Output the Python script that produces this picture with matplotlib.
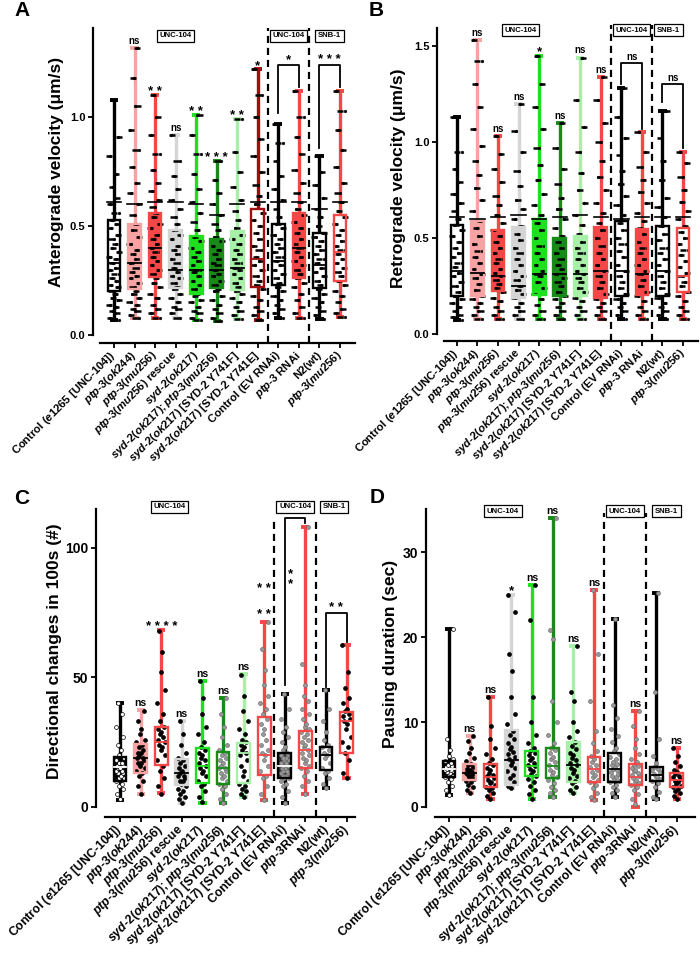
import matplotlib
matplotlib.use('Agg')
import matplotlib.pyplot as plt
from matplotlib.patches import Rectangle

plt.rcParams['font.family'] = ['Liberation Sans', 'DejaVu Sans']
plt.rcParams['font.weight'] = 'bold'
plt.rcParams['mathtext.fontset'] = 'custom'
plt.rcParams['mathtext.rm'] = 'Liberation Sans:bold'
plt.rcParams['mathtext.it'] = 'Liberation Sans:italic:bold'
plt.rcParams['mathtext.bf'] = 'Liberation Sans:bold'

# ---------------- categories ----------------
cats_ab = ['Control ($\\mathit{e1265}$ [UNC-104])',
           '$\\mathit{ptp}$-$\\mathit{3(ok244)}$',
           '$\\mathit{ptp}$-$\\mathit{3(mu256)}$',
           '$\\mathit{ptp}$-$\\mathit{3(mu256)}$ rescue',
           '$\\mathit{syd}$-$\\mathit{2(ok217)}$',
           '$\\mathit{syd}$-$\\mathit{2(ok217);ptp}$-$\\mathit{3(mu256)}$',
           '$\\mathit{syd}$-$\\mathit{2(ok217)}$ [SYD-2 Y741F]',
           '$\\mathit{syd}$-$\\mathit{2(ok217)}$ [SYD-2 Y741E]',
           'Control (EV RNAi)',
           '$\\mathit{ptp}$-$\\mathit{3}$ RNAi',
           'N2(wt)',
           '$\\mathit{ptp}$-$\\mathit{3(mu256)}$']
cats_cd = cats_ab[:9] + ['$\\mathit{ptp}$-$\\mathit{3}$RNAi'] + cats_ab[10:]

# ---------------- Panel A: anterograde velocity ----------------
a_min = [0.07, 0.078, 0.078, 0.08, 0.07, 0.065, 0.075, 0.07, 0.08, 0.078, 0.075, 0.084]
a_q1 = [0.20, 0.21, 0.265, 0.214, 0.19, 0.215, 0.206, 0.22, 0.23, 0.26, 0.215, 0.25]
a_med = [0.33, 0.33, 0.40, 0.30, 0.30, 0.30, 0.31, 0.35, 0.34, 0.40, 0.32, 0.38]
a_q3 = [0.53, 0.51, 0.56, 0.48, 0.455, 0.44, 0.477, 0.58, 0.51, 0.56, 0.47, 0.55]
a_max = [1.08, 1.32, 1.10, 0.92, 1.01, 0.80, 0.99, 1.22, 0.97, 1.12, 0.82, 1.12]
a_sd = [0.61, 0.60, 0.61, 0.61, 0.60, 0.55, 0.60, 0.61, 0.61, 0.61, 0.58, 0.61]
a_pts = [
    [0.07, 0.08, 0.1, 0.11, 0.13, 0.14, 0.16, 0.17, 0.19, 0.2, 0.22, 0.23, 0.25, 0.26, 0.28, 0.3, 0.31, 0.33, 0.35, 0.36, 0.38, 0.4, 0.42, 0.44, 0.46, 0.49, 0.51, 0.53, 0.56, 0.6, 0.63, 0.68, 0.74, 0.82, 0.91, 1.08],
    [0.08, 0.09, 0.11, 0.12, 0.14, 0.15, 0.17, 0.19, 0.2, 0.22, 0.24, 0.26, 0.27, 0.29, 0.31, 0.33, 0.35, 0.37, 0.39, 0.42, 0.45, 0.48, 0.51, 0.55, 0.6, 0.65, 0.7, 0.77, 0.85, 0.94, 1.05, 1.18, 1.32],
    [0.08, 0.1, 0.12, 0.14, 0.17, 0.19, 0.22, 0.24, 0.26, 0.28, 0.3, 0.32, 0.34, 0.36, 0.38, 0.4, 0.42, 0.44, 0.46, 0.49, 0.51, 0.54, 0.56, 0.59, 0.62, 0.66, 0.7, 0.76, 0.83, 0.92, 1.0, 1.1],
    [0.08, 0.1, 0.12, 0.13, 0.15, 0.17, 0.19, 0.21, 0.22, 0.24, 0.26, 0.27, 0.29, 0.31, 0.33, 0.35, 0.37, 0.39, 0.41, 0.44, 0.46, 0.48, 0.51, 0.54, 0.58, 0.62, 0.67, 0.73, 0.8, 0.92],
    [0.07, 0.08, 0.1, 0.11, 0.13, 0.15, 0.16, 0.18, 0.19, 0.21, 0.23, 0.25, 0.27, 0.29, 0.3, 0.32, 0.34, 0.36, 0.38, 0.4, 0.43, 0.45, 0.48, 0.52, 0.56, 0.61, 0.67, 0.74, 0.83, 0.92, 1.01],
    [0.065, 0.08, 0.1, 0.12, 0.14, 0.16, 0.18, 0.2, 0.21, 0.23, 0.25, 0.27, 0.28, 0.3, 0.32, 0.33, 0.35, 0.37, 0.39, 0.41, 0.43, 0.45, 0.48, 0.51, 0.55, 0.6, 0.65, 0.71, 0.8],
    [0.075, 0.09, 0.11, 0.13, 0.15, 0.17, 0.19, 0.2, 0.22, 0.24, 0.26, 0.28, 0.3, 0.31, 0.33, 0.35, 0.37, 0.39, 0.42, 0.44, 0.46, 0.49, 0.53, 0.57, 0.62, 0.68, 0.75, 0.84, 0.99],
    [0.07, 0.09, 0.11, 0.13, 0.16, 0.18, 0.21, 0.23, 0.25, 0.27, 0.3, 0.32, 0.34, 0.36, 0.39, 0.41, 0.44, 0.47, 0.5, 0.53, 0.56, 0.6, 0.64, 0.69, 0.75, 0.82, 0.9, 1.0, 1.1, 1.22],
    [0.08, 0.1, 0.12, 0.14, 0.16, 0.18, 0.2, 0.22, 0.24, 0.26, 0.28, 0.3, 0.32, 0.34, 0.36, 0.38, 0.4, 0.42, 0.44, 0.46, 0.49, 0.51, 0.54, 0.58, 0.62, 0.67, 0.73, 0.8, 0.88, 0.97],
    [0.08, 0.1, 0.13, 0.16, 0.19, 0.22, 0.24, 0.26, 0.28, 0.3, 0.32, 0.34, 0.36, 0.38, 0.4, 0.42, 0.44, 0.47, 0.49, 0.52, 0.55, 0.58, 0.61, 0.65, 0.7, 0.76, 0.83, 0.91, 1.0, 1.12],
    [0.075, 0.09, 0.11, 0.13, 0.15, 0.17, 0.19, 0.21, 0.23, 0.25, 0.27, 0.29, 0.31, 0.33, 0.35, 0.37, 0.39, 0.41, 0.43, 0.45, 0.47, 0.5, 0.54, 0.58, 0.63, 0.69, 0.75, 0.82],
    [0.084, 0.1, 0.12, 0.15, 0.18, 0.2, 0.23, 0.25, 0.27, 0.29, 0.31, 0.33, 0.35, 0.37, 0.39, 0.41, 0.43, 0.46, 0.48, 0.51, 0.54, 0.57, 0.61, 0.65, 0.7, 0.77, 0.85, 0.94, 1.03, 1.12],
]
a_sig = ['', 'ns', '* *', 'ns', '* *', '* * *', '* *', '*', '', '', '', '']

# ---------------- Panel B: retrograde velocity ----------------
b_min = [0.073, 0.08, 0.08, 0.08, 0.08, 0.08, 0.08, 0.08, 0.08, 0.08, 0.08, 0.08]
b_q1 = [0.20, 0.20, 0.225, 0.186, 0.203, 0.20, 0.20, 0.186, 0.20, 0.203, 0.20, 0.22]
b_med = [0.33, 0.32, 0.30, 0.25, 0.31, 0.31, 0.31, 0.33, 0.33, 0.31, 0.33, 0.30]
b_q3 = [0.57, 0.59, 0.54, 0.556, 0.60, 0.50, 0.51, 0.556, 0.59, 0.545, 0.56, 0.55]
b_max = [1.13, 1.53, 1.03, 1.20, 1.45, 1.10, 1.44, 1.34, 1.28, 1.05, 1.16, 0.95]
b_sd = [0.61, 0.60, 0.61, 0.62, 0.60, 0.61, 0.62, 0.61, 0.60, 0.61, 0.61, 0.61]
b_pts = [
    [0.073, 0.09, 0.1, 0.12, 0.14, 0.16, 0.18, 0.2, 0.22, 0.25, 0.27, 0.3, 0.32, 0.35, 0.37, 0.4, 0.42, 0.45, 0.48, 0.51, 0.54, 0.57, 0.6, 0.64, 0.68, 0.73, 0.79, 0.86, 0.95, 1.13],
    [0.08, 0.1, 0.12, 0.14, 0.16, 0.18, 0.2, 0.23, 0.26, 0.29, 0.31, 0.34, 0.37, 0.4, 0.43, 0.47, 0.51, 0.55, 0.59, 0.64, 0.7, 0.76, 0.83, 0.9, 0.98, 1.07, 1.18, 1.3, 1.42, 1.53],
    [0.08, 0.1, 0.12, 0.14, 0.17, 0.19, 0.22, 0.24, 0.26, 0.28, 0.3, 0.32, 0.34, 0.37, 0.39, 0.42, 0.45, 0.48, 0.51, 0.54, 0.58, 0.62, 0.67, 0.72, 0.79, 0.86, 0.94, 1.03],
    [0.08, 0.1, 0.12, 0.14, 0.16, 0.19, 0.21, 0.23, 0.25, 0.28, 0.3, 0.33, 0.36, 0.39, 0.42, 0.45, 0.49, 0.52, 0.56, 0.6, 0.65, 0.7, 0.77, 0.85, 0.95, 1.06, 1.2],
    [0.08, 0.1, 0.12, 0.15, 0.18, 0.21, 0.24, 0.27, 0.3, 0.31, 0.33, 0.36, 0.39, 0.42, 0.46, 0.5, 0.54, 0.58, 0.62, 0.67, 0.73, 0.8, 0.88, 0.97, 1.07, 1.18, 1.3, 1.45],
    [0.08, 0.1, 0.12, 0.14, 0.16, 0.18, 0.2, 0.22, 0.25, 0.27, 0.29, 0.31, 0.34, 0.36, 0.39, 0.42, 0.45, 0.48, 0.51, 0.55, 0.6, 0.65, 0.71, 0.78, 0.86, 0.97, 1.1],
    [0.08, 0.1, 0.12, 0.14, 0.17, 0.19, 0.22, 0.24, 0.27, 0.29, 0.31, 0.33, 0.36, 0.39, 0.42, 0.45, 0.48, 0.52, 0.57, 0.62, 0.68, 0.75, 0.84, 0.95, 1.08, 1.22, 1.44],
    [0.08, 0.1, 0.12, 0.14, 0.16, 0.18, 0.21, 0.24, 0.27, 0.3, 0.33, 0.36, 0.39, 0.42, 0.46, 0.5, 0.54, 0.58, 0.63, 0.68, 0.75, 0.82, 0.9, 1.0, 1.1, 1.22, 1.34],
    [0.08, 0.1, 0.12, 0.14, 0.16, 0.18, 0.21, 0.24, 0.27, 0.3, 0.33, 0.36, 0.4, 0.43, 0.47, 0.5, 0.54, 0.58, 0.62, 0.67, 0.72, 0.78, 0.85, 0.93, 1.02, 1.13, 1.28],
    [0.08, 0.1, 0.12, 0.14, 0.17, 0.2, 0.22, 0.25, 0.28, 0.31, 0.33, 0.36, 0.39, 0.42, 0.45, 0.48, 0.52, 0.55, 0.59, 0.63, 0.68, 0.74, 0.8, 0.87, 0.95, 1.05],
    [0.08, 0.1, 0.12, 0.14, 0.16, 0.19, 0.21, 0.24, 0.27, 0.3, 0.33, 0.36, 0.39, 0.42, 0.45, 0.49, 0.52, 0.56, 0.61, 0.66, 0.71, 0.8, 0.9, 1.02, 1.16],
    [0.08, 0.1, 0.12, 0.14, 0.17, 0.2, 0.22, 0.25, 0.27, 0.3, 0.32, 0.35, 0.38, 0.41, 0.44, 0.47, 0.5, 0.53, 0.56, 0.6, 0.64, 0.69, 0.75, 0.82, 0.89, 0.95],
]
b_sig = ['', 'ns', 'ns', 'ns', '*', 'ns', 'ns', 'ns', '', '', '', '']

# ---------------- Panel C: directional changes ----------------
c_min = [2.7, 5, 5.3, 1.5, 1.7, 1.5, 4, 2.7, 1.5, 5, 7.2, 11]
c_q1 = [10.2, 13, 16.2, 8.5, 9.1, 8.9, 9.4, 12.4, 11, 15, 14.3, 21]
c_med = [15.5, 19, 25, 13, 16, 15, 21, 20, 16, 22, 20, 33]
c_q3 = [19.4, 24.3, 30.8, 18.5, 22.6, 21.4, 24.8, 34.6, 21, 29.3, 23.3, 36.8]
c_max = [40, 37.5, 68.3, 33, 48.6, 42.2, 51.4, 71.5, 43.6, 108, 45, 62.5]
c_pts = [
    [3, 5, 7, 8, 9, 10, 11, 11, 12, 13, 13, 14, 14, 15, 15, 16, 16, 17, 17, 18, 19, 20, 22, 24, 27, 31, 36, 40],
    [5, 8, 10, 12, 13, 14, 15, 16, 17, 17, 18, 19, 19, 20, 21, 21, 22, 23, 24, 25, 26, 28, 30, 33, 37],
    [5, 8, 11, 14, 16, 18, 20, 22, 23, 24, 25, 26, 27, 28, 29, 30, 31, 33, 36, 40, 45, 52, 60, 68],
    [1.5, 3, 4, 5, 6, 7, 8, 9, 10, 10, 11, 12, 12, 13, 14, 15, 16, 17, 18, 19, 21, 24, 28, 33],
    [2, 4, 6, 8, 9, 10, 12, 13, 14, 15, 16, 17, 18, 19, 20, 21, 22, 23, 25, 28, 31, 36, 42, 48.6],
    [1.5, 3, 5, 7, 8, 9, 10, 11, 12, 13, 14, 15, 15, 16, 17, 18, 19, 20, 21, 22, 24, 27, 31, 36, 42],
    [4, 5, 6, 7, 8, 9, 10, 12, 14, 16, 18, 20, 21, 22, 23, 24, 25, 26, 28, 30, 33, 37, 43, 51],
    [2.7, 5, 8, 11, 12, 14, 16, 18, 20, 21, 22, 24, 26, 28, 30, 32, 34, 36, 38, 40, 43, 47, 53, 61, 71.5],
    [1.5, 4, 6, 8, 9, 10, 11, 11, 12, 12, 13, 13, 14, 14, 15, 15, 16, 16, 17, 17, 18, 18, 19, 19, 20, 20, 21, 22, 23, 25, 27, 29, 31, 34, 38, 43.6],
    [5, 8, 10, 12, 14, 15, 16, 17, 18, 19, 20, 21, 22, 23, 24, 25, 26, 27, 28, 29, 30, 31, 32, 34, 36, 38, 41, 43, 47, 55, 108],
    [7.2, 9, 11, 13, 14, 15, 17, 19, 20, 21, 22, 23, 24, 26, 29, 33, 38, 45],
    [11, 13, 18, 21, 23, 25, 27, 30, 32, 33, 34, 35, 36, 37, 38, 40, 42, 46, 52, 62.5],
]
c_sig = ['', 'ns', '* * * *', 'ns', 'ns', 'ns', 'ns', '', '', '', '', '']

# ---------------- Panel D: pausing duration ----------------
d_min = [1.4, 1.7, 1.0, 2.2, 1.0, 1.2, 1.6, 0.8, 1.2, 0.0, 0.9, 1.0]
d_q1 = [3.5, 3.2, 2.4, 2.6, 3.6, 3.4, 3.0, 2.9, 3.0, 2.6, 3.1, 2.4]
d_med = [4.5, 4.0, 3.5, 5.5, 4.8, 4.8, 5.0, 4.5, 4.5, 3.5, 3.8, 3.2]
d_q3 = [5.45, 5.06, 5.1, 9.05, 6.6, 7.0, 7.6, 5.9, 6.3, 5.1, 4.7, 4.0]
d_max = [21, 8.35, 12.9, 25, 26.1, 34, 18.9, 25.5, 22.1, 11.3, 25.2, 6.9]
d_pts = [
    [1.4, 2, 2.5, 3, 3.3, 3.5, 3.7, 3.9, 4, 4.1, 4.2, 4.3, 4.4, 4.5, 4.6, 4.7, 4.8, 5, 5.2, 5.4, 5.7, 6, 6.7, 8, 21],
    [1.7, 2, 2.3, 2.6, 2.9, 3.1, 3.3, 3.5, 3.6, 3.8, 3.9, 4, 4.1, 4.2, 4.4, 4.5, 4.7, 4.9, 5.1, 5.4, 5.8, 6.3, 7, 7.8, 8.35],
    [1, 1.3, 1.6, 2, 2.2, 2.4, 2.6, 2.8, 3, 3.2, 3.4, 3.6, 3.8, 4, 4.3, 4.6, 4.9, 5.2, 5.6, 6.2, 7, 8, 9.5, 12.9],
    [2.2, 2.5, 3, 3.4, 3.8, 4.2, 4.6, 5, 5.3, 5.6, 5.9, 6.2, 6.5, 6.8, 7.1, 7.5, 8, 8.5, 9, 9.8, 11, 13, 16, 18, 23, 25],
    [1, 1.5, 2, 2.5, 3, 3.3, 3.6, 3.9, 4.2, 4.5, 4.8, 5, 5.2, 5.5, 5.8, 6.1, 6.4, 6.6, 7, 7.5, 8.5, 10, 13, 22, 26.1],
    [1.2, 1.6, 2, 2.4, 2.8, 3.2, 3.5, 3.8, 4.1, 4.4, 4.7, 5, 5.3, 5.6, 5.9, 6.3, 6.7, 7, 7.5, 8.5, 10, 12.5, 19.8, 20.8, 34],
    [1.6, 2, 2.4, 2.8, 3.1, 3.4, 3.7, 4, 4.3, 4.6, 4.9, 5.2, 5.5, 5.8, 6.1, 6.4, 6.8, 7.2, 7.6, 8.2, 9, 10, 12.5, 13.5, 18.9],
    [0.8, 1.2, 1.7, 2.2, 2.6, 2.9, 3.2, 3.5, 3.8, 4.1, 4.4, 4.7, 5, 5.3, 5.6, 6, 6.6, 7.5, 9, 12.5, 18, 25.5],
    [1.2, 1.6, 2, 2.3, 2.6, 2.9, 3.1, 3.3, 3.5, 3.7, 3.9, 4.1, 4.3, 4.5, 4.7, 4.9, 5.1, 5.3, 5.6, 5.9, 6.2, 6.6, 7, 7.6, 8.3, 9.2, 10.5, 12, 22.1],
    [0.3, 1, 1.5, 2, 2.3, 2.6, 2.8, 3, 3.2, 3.4, 3.6, 3.8, 4, 4.2, 4.4, 4.6, 4.8, 5, 5.3, 5.7, 6.2, 7, 8, 9.5, 11.3],
    [0.9, 1.2, 1.8, 2.4, 2.8, 3.1, 3.3, 3.5, 3.7, 3.9, 4.1, 4.3, 4.5, 4.7, 5.2, 6, 8, 13.5, 25.2],
    [1, 1.3, 1.6, 1.9, 2.1, 2.3, 2.5, 2.7, 2.9, 3.1, 3.3, 3.5, 3.7, 3.9, 4.1, 4.4, 4.8, 5.3, 6, 6.9],
]
d_sig = ['', 'ns', 'ns', '*', 'ns', 'ns', 'ns', 'ns', '', 'ns', '', 'ns']

# ---------------- colours ----------------
K = '#000000'; W = '#ffffff'
PINK = '#F6A3A3'; RED = '#F44848'; GREY = '#D5D5D5'
GREEN = '#1EE01E'; DKGREEN = '#178A17'; LTGREEN = '#A8F0A8'; DKRED = '#A30D0D'
DKFILL = '#333333'; PG = '#9A9A9A'

a_edge = [K, PINK, RED, GREY, GREEN, DKGREEN, LTGREEN, DKRED, K, RED, K, RED]
a_fill = [W, PINK, RED, GREY, GREEN, DKGREEN, LTGREEN, W, W, RED, W, W]
b_edge = [K, PINK, RED, GREY, GREEN, DKGREEN, LTGREEN, RED, K, RED, K, RED]
b_fill = [W, PINK, RED, GREY, GREEN, DKGREEN, LTGREEN, RED, W, RED, W, W]
c_edge = [K, PINK, RED, GREY, GREEN, DKGREEN, LTGREEN, RED, K, RED, K, RED]
c_fill = [K, PINK, W, GREY, W, W, W, W, DKFILL, W, W, W]
c_ptc = [W, K, K, K, K, PG, K, PG, PG, PG, PG, K]
d_edge = [K, PINK, RED, GREY, GREEN, DKGREEN, LTGREEN, RED, K, RED, K, RED]
d_fill = [K, PINK, W, GREY, W, W, LTGREEN, W, W, W, W, W]
d_ptc = [W, K, K, K, K, PG, K, PG, PG, PG, PG, K]

FW, FH = 700, 959
fig = plt.figure(figsize=(FW / 100, FH / 100), dpi=100)

JIT = [0.0, -0.55, 0.5, -0.25, 0.3, -0.75, 0.72, -0.1, 0.15, -0.4, 0.62, -0.65, 0.4, -0.3]


def px_rect(l, t, r, b):
    return [l / FW, (FH - b) / FH, (r - l) / FW, (b - t) / FH]


def panel(rect, xlim, ylim, yticks, ytl, cats, vmin, q1, med, q3, vmax, pts,
          edge, fill, ptc, ms, off_b, off_l, dashes, dash_top, sd=None, dense=False,
          xfs=8.0, yfs=8.0):
    ax = fig.add_axes(rect)
    ax.set_xlim(*xlim)
    ax.set_ylim(*ylim)
    for s in ['top', 'right']:
        ax.spines[s].set_visible(False)
    ax.spines['left'].set_position(('outward', off_l * 0.72))
    ax.spines['bottom'].set_position(('outward', off_b * 0.72))
    ax.spines['left'].set_bounds(0, ylim[1])
    for s in ['left', 'bottom']:
        ax.spines[s].set_linewidth(1.6)
    ax.set_xticks(range(len(cats)))
    ax.set_xticklabels(cats, rotation=45, ha='right', va='center',
                       rotation_mode='anchor', fontsize=xfs, fontweight='bold')
    ax.set_yticks(yticks)
    ax.set_yticklabels(ytl, fontsize=yfs, fontweight='bold')
    ax.tick_params(direction='out', length=3.5, width=1.3, pad=2)
    ax.tick_params(axis='x', pad=4)
    hw = 0.31
    for i in range(len(cats)):
        c = edge[i]
        ax.plot([i, i], [vmin[i], vmax[i]], color=c, lw=2.4,
                solid_capstyle='butt', zorder=1, clip_on=False)
        for yv in (vmin[i], vmax[i]):
            ax.plot([i - 0.2, i + 0.2], [yv, yv], color=c, lw=2.8,
                    solid_capstyle='butt', zorder=1, clip_on=False)
        ax.add_patch(Rectangle((i - hw, q1[i]), 2 * hw, q3[i] - q1[i],
                               facecolor=fill[i], edgecolor='none', zorder=2))
        if dense:
            xs = [i + JIT[j % len(JIT)] * 0.33 for j in range(len(pts[i]))]
            ax.plot(xs, pts[i], ls='none', marker='_', ms=ms, mec=K,
                    mew=1.8, zorder=3, clip_on=False)
            xs2 = [i - JIT[(j + 5) % len(JIT)] * 0.3 for j in range(len(pts[i]))]
            ax.plot(xs2, pts[i], ls='none', marker='o', ms=2.0, mfc=K, mec=K,
                    mew=0.3, zorder=3, clip_on=False)
        else:
            xs = [i + JIT[j % len(JIT)] * 0.27 for j in range(len(pts[i]))]
            pc = ptc[i] if ptc is not None else K
            mec = K if pc in (K, W) else '#6E6E6E'
            ax.plot(xs, pts[i], ls='none', marker='o', ms=ms, mfc=pc, mec=mec,
                    mew=0.5, zorder=3, clip_on=False)
        ax.add_patch(Rectangle((i - hw, q1[i]), 2 * hw, q3[i] - q1[i],
                               facecolor='none', edgecolor=c, lw=1.7, zorder=4))
        mc = c if fill[i] == W else (W if fill[i] in (K, DKFILL) else K)
        ax.plot([i - hw, i + hw], [med[i], med[i]], color=mc, lw=1.3, zorder=4)
        if sd is not None:
            ax.plot([i - 0.35, i + 0.35], [sd[i], sd[i]], color=K, lw=1.2, zorder=5)
    hpx = rect[3] * FH
    for xd in dashes:
        ax.axvline(xd, ymin=-off_b / hpx, ymax=dash_top, color=K, lw=1.6,
                   ls=(0, (3.2, 2.2)), clip_on=False, zorder=6)
    return ax


def sig_labels(ax, sig, vmax, ns_size=7, star_size=9.5):
    for i, s in enumerate(sig):
        if not s:
            continue
        if s == 'ns':
            ax.annotate(s, (i, vmax[i]), xytext=(0, 1.5), textcoords='offset points',
                        ha='center', va='bottom', fontsize=ns_size, fontweight='bold',
                        annotation_clip=False)
        else:
            ax.annotate(s, (i, vmax[i]), xytext=(0, -2), textcoords='offset points',
                        ha='center', va='bottom', fontsize=star_size, fontweight='bold',
                        annotation_clip=False)


def bracket(ax, x1, x2, y, yl, yr, text=None, size=9.5, dy=0):
    ax.plot([x1, x1, x2, x2], [yl, y, y, yr], color=K, lw=1.3, clip_on=False, zorder=6)
    if text:
        ax.annotate(text, ((x1 + x2) / 2, y), xytext=(0, 1 + dy), textcoords='offset points',
                    ha='center', va='bottom', fontsize=size, fontweight='bold',
                    annotation_clip=False)


def header(ax, x, yf, text):
    ax.text(x, yf, text, transform=ax.get_xaxis_transform(), ha='center', va='center',
            fontsize=5.6, fontweight='bold', zorder=7,
            bbox=dict(boxstyle='square,pad=0.35', fc=W, ec=K, lw=0.9))


# ---- Panel A ----
axA = panel(px_rect(100, 28, 355, 335), (-0.68, 11.73), (0, 1.41), [0, 0.5, 1.0],
            ['0.0', '0.5', '1.0'], cats_ab, a_min, a_q1, a_med, a_q3, a_max, a_pts,
            a_edge, a_fill, None, 4.5, 8, 7, [7.5, 9.5], 1.0, sd=a_sd, dense=True,
            xfs=8.1, yfs=8.0)
sig_labels(axA, a_sig, a_max)
bracket(axA, 8, 9, 1.24, 1.02, 1.14, '*', dy=-2)
bracket(axA, 10, 11, 1.24, 0.86, 1.14, '* * *', dy=-2)
header(axA, 3.0, 0.974, 'UNC-104')
header(axA, 8.5, 0.974, 'UNC-104')
header(axA, 10.5, 0.974, 'SNB-1')

# ---- Panel B ----
axB = panel(px_rect(444, 28, 698, 334), (-0.63, 11.73), (0, 1.594), [0, 0.5, 1.0, 1.5],
            ['0.0', '0.5', '1.0', '1.5'], cats_ab, b_min, b_q1, b_med, b_q3, b_max, b_pts,
            b_edge, b_fill, None, 4.5, 7, 7, [7.5, 9.5], 1.01, sd=b_sd, dense=True,
            xfs=8.1, yfs=8.0)
sig_labels(axB, b_sig, b_max)
bracket(axB, 8, 9, 1.41, 1.30, 1.07, 'ns', size=7)
bracket(axB, 10, 11, 1.30, 1.21, 0.97, 'ns', size=7)
header(axB, 3.1, 0.993, 'UNC-104')
header(axB, 8.5, 0.993, 'UNC-104')
header(axB, 10.3, 0.993, 'SNB-1')

# ---- Panel C ----
axC = panel(px_rect(105, 509, 355, 807), (-0.73, 11.41), (0, 115), [0, 50, 100],
            ['0', '50', '100'], cats_cd, c_min, c_q1, c_med, c_q3, c_max, c_pts,
            c_edge, c_fill, c_ptc, 2.8, 10, 9, [7.5, 9.5], 0.973, xfs=8.8, yfs=10)
sig_labels(axC, c_sig, c_max, ns_size=7.5)
axC.text(7, 74, '* *', ha='center', va='center', fontsize=9.5, fontweight='bold')
axC.text(7, 84, '* *', ha='center', va='center', fontsize=9.5, fontweight='bold')
bracket(axC, 8, 9, 111.6, 47, 109.5)
axC.text(8.27, 88, '*\n*', ha='center', va='center', fontsize=9.5, fontweight='bold',
         linespacing=0.75)
bracket(axC, 10, 11, 75, 46.5, 63.5, '* *', dy=-2)
header(axC, 2.4, 1.007, 'UNC-104')
header(axC, 8.5, 1.007, 'UNC-104')
header(axC, 10.4, 1.007, 'SNB-1')

# ---- Panel D ----
axD = panel(px_rect(435, 509, 695, 807), (-0.68, 11.88), (0, 35.06), [0, 10, 20, 30],
            ['0', '10', '20', '30'], cats_cd, d_min, d_q1, d_med, d_q3, d_max, d_pts,
            d_edge, d_fill, d_ptc, 2.8, 10, 9, [7.5, 9.5], 0.987, xfs=8.8, yfs=10)
sig_labels(axD, d_sig, d_max, ns_size=7.5)
header(axD, 2.6, 0.993, 'UNC-104')
header(axD, 8.5, 0.993, 'UNC-104')
header(axD, 10.5, 0.993, 'SNB-1')

# ---- y labels and panel letters ----
def ftxt(x, y, s, **kw):
    fig.text(x / FW, 1 - y / FH, s, **kw)

ftxt(57, 172, 'Anterograde velocity (\u03bcm/s)', rotation=90, ha='center', va='center',
     fontsize=12.5, fontweight='bold')
ftxt(398, 178, 'Retrograde velocity (\u03bcm/s)', rotation=90, ha='center', va='center',
     fontsize=12.5, fontweight='bold')
ftxt(55, 651, 'Directional changes in 100s (#)', rotation=90, ha='center', va='center',
     fontsize=12.5, fontweight='bold')
ftxt(391, 654, 'Pausing duration (sec)', rotation=90, ha='center', va='center',
     fontsize=12.5, fontweight='bold')
for (x, y, s) in [(22, 11, 'A'), (376, 11, 'B'), (22, 498, 'C'), (377, 497, 'D')]:
    ftxt(x, y, s, ha='center', va='center', fontsize=15, fontweight='bold')

fig.savefig('out.png', dpi=100)
